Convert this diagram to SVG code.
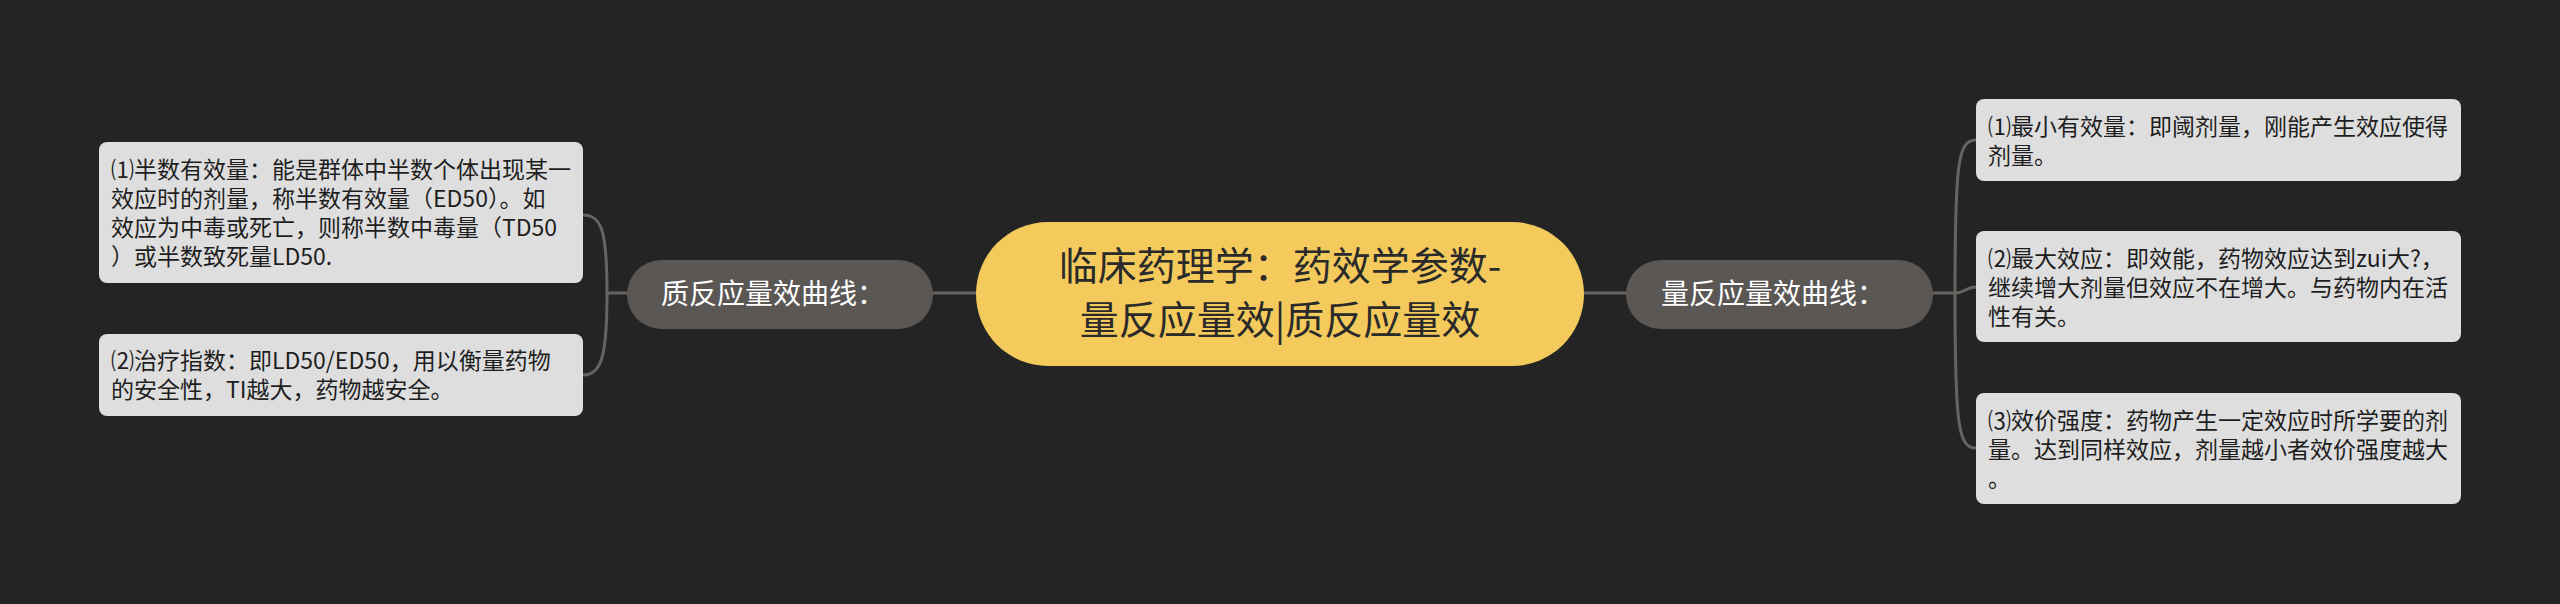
<svg xmlns="http://www.w3.org/2000/svg" width="2560" height="604" viewBox="0 0 2560 604">
<style>
.cn{font-family:"Noto Sans CJK SC","Noto Sans",sans-serif;}
.leaf rect{fill:#dedede;}
.leaf text{fill:#1e1e1e;font-size:23px;}
.sub rect{fill:#5a5754;}
.sub text{fill:#ffffff;font-size:28px;}
.root rect{fill:#f5ca5c;}
.root text{fill:#2a2a2a;font-size:39px;text-anchor:middle;}
.conn path{fill:none;stroke:#67635f;stroke-width:3;stroke-linecap:round;}
</style>
<rect width="2560" height="604" fill="#242424"/>
<g class="conn">
<path d="M976 293 L933 293"/>
<path d="M1584 293 L1626 293"/>
<path d="M627 293 L607 293"/>
<path d="M607 293 C607 232 602 215 583 215"/>
<path d="M607 293 C607 355 602 375 583 375"/>
<path d="M1933 293 L1955 293"/>
<path d="M1955 293 C1955 162 1958 140 1976 140"/>
<path d="M1955 293 C1966 293 1965 287 1976 287"/>
<path d="M1955 293 C1955 425 1958 448 1976 448"/>
</g>
<g id="root" class="root cn">
<rect x="976" y="222" width="608" height="144" rx="72"/>
<text x="1280" y="280">临床药理学：药效学参数-</text>
<text x="1280" y="334">量反应量效|质反应量效</text>
</g>
<g id="left-branch" class="sub cn">
<rect x="627" y="260" width="306" height="69" rx="34.5"/>
<text x="661" y="304">质反应量效曲线：</text>
</g>
<g id="right-branch" class="sub cn">
<rect x="1626" y="260" width="307" height="69" rx="34.5"/>
<text x="1661" y="304">量反应量效曲线：</text>
</g>
<g id="left-leaf-1" class="leaf cn">
<rect x="99" y="142" width="484" height="141" rx="8"/>
<text x="111" y="178">⑴半数有效量：能是群体中半数个体出现某一</text>
<text x="111" y="207">效应时的剂量，称半数有效量（ED50）。如</text>
<text x="111" y="236">效应为中毒或死亡，则称半数中毒量（TD50</text>
<text x="111" y="265">）或半数致死量LD50.</text>
</g>
<g id="left-leaf-2" class="leaf cn">
<rect x="99" y="334" width="484" height="82" rx="8"/>
<text x="111" y="369">⑵治疗指数：即LD50/ED50，用以衡量药物</text>
<text x="111" y="398">的安全性，TI越大，药物越安全。</text>
</g>
<g id="right-leaf-1" class="leaf cn">
<rect x="1976" y="99" width="485" height="82" rx="8"/>
<text x="1988" y="135">⑴最小有效量：即阈剂量，刚能产生效应使得</text>
<text x="1988" y="164">剂量。</text>
</g>
<g id="right-leaf-2" class="leaf cn">
<rect x="1976" y="231" width="485" height="111" rx="8"/>
<text x="1988" y="267">⑵最大效应：即效能，药物效应达到zui大?，</text>
<text x="1988" y="296">继续增大剂量但效应不在增大。与药物内在活</text>
<text x="1988" y="325">性有关。</text>
</g>
<g id="right-leaf-3" class="leaf cn">
<rect x="1976" y="393" width="485" height="111" rx="8"/>
<text x="1988" y="429">⑶效价强度：药物产生一定效应时所学要的剂</text>
<text x="1988" y="458">量。达到同样效应，剂量越小者效价强度越大</text>
<text x="1988" y="487">。</text>
</g>
</svg>
